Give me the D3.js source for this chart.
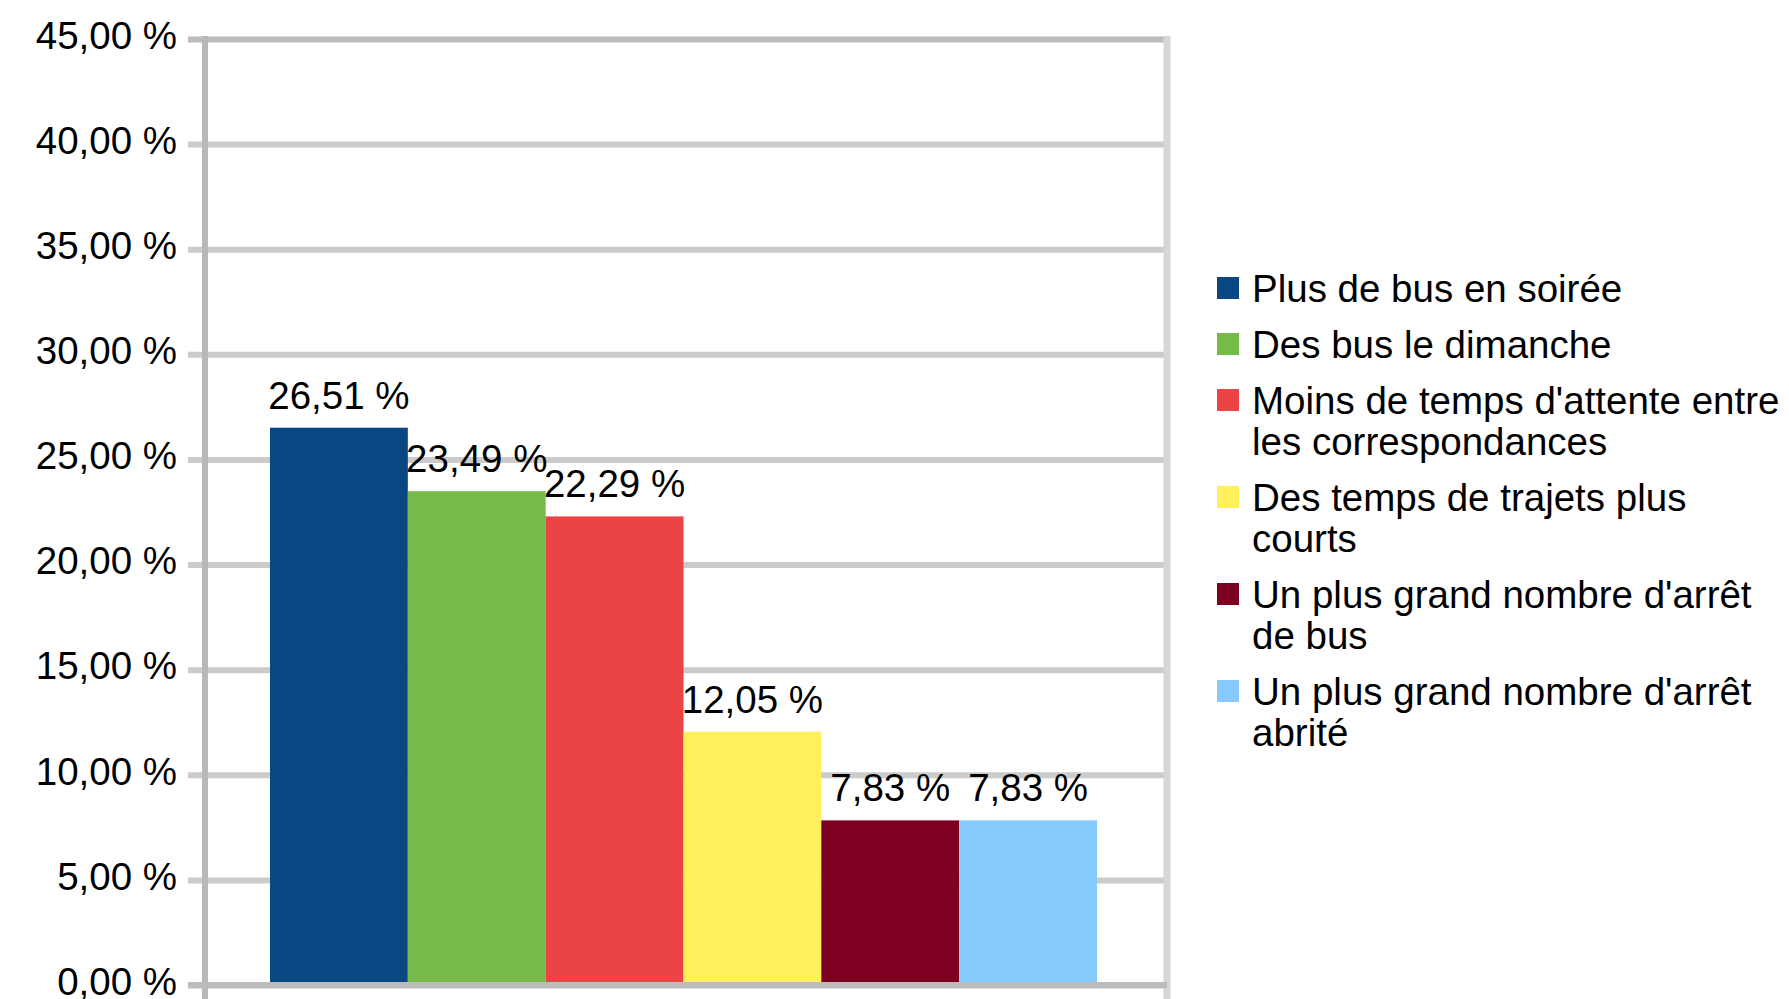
<!DOCTYPE html>
<html><head><meta charset="utf-8">
<script src="https://cdn.jsdelivr.net/npm/d3@7"></script>
<style>
html,body{margin:0;padding:0;background:#fff;}
svg{display:block;}
text{font-family:"Liberation Sans",Arial,sans-serif;fill:#000;}
</style></head>
<body>
<svg id="c" width="1789" height="999"></svg>
<script>
const seriesNames = [
  "Plus de bus en soirée",
  "Des bus le dimanche",
  "Moins de temps d'attente entre les correspondances",
  "Des temps de trajets plus courts",
  "Un plus grand nombre d'arrêt de bus",
  "Un plus grand nombre d'arrêt abrité"
];
const seriesValues = [26.51, 23.49, 22.29, 12.05, 7.83, 7.83];
const seriesColors = ["#0a4682", "#76bb4a", "#ec4444", "#fff05c", "#7e0021", "#85c9fd"];
const yTicks = [0, 5, 10, 15, 20, 25, 30, 35, 40, 45];

const fmt = v => v.toFixed(2).replace(".", ",") + " %";
const FS = 38.5;

const svg = d3.select("#c");
const plotL = 205, plotR = 1167, plotT = 39, plotB = 985;

const y = d3.scaleLinear().domain([0, 45]).range([plotB, plotT]);
const x = d3.scaleBand().domain(seriesNames).range([270, 1097]).padding(0);

// gridlines + tick labels via axis
const tickStart = 188;
const ax = svg.append("g").attr("transform", `translate(${tickStart},0)`)
  .call(d3.axisLeft(y).tickValues(yTicks).tickFormat(fmt)
    .tickSizeInner(-(plotR - tickStart)).tickSizeOuter(0).tickPadding(11));
ax.select(".domain").remove();
ax.selectAll(".tick line").attr("stroke", d => (d === 0 || d === 45) ? "#bcbcbc" : "#cbcbcb").attr("stroke-width", 6);
ax.selectAll(".tick text").style("font-size", FS + "px").style("font-family", '"Liberation Sans",Arial,sans-serif')
  .attr("fill", "#000").attr("dy", "0.32em").attr("y", -3);

// vertical axis lines
svg.append("line").attr("x1", plotL).attr("x2", plotL).attr("y1", plotT - 3).attr("y2", 999)
  .attr("stroke", "#b8b8b8").attr("stroke-width", 6);
svg.append("line").attr("x1", plotR).attr("x2", plotR).attr("y1", plotT - 3).attr("y2", 999)
  .attr("stroke", "#d6d6d6").attr("stroke-width", 7);

// bars
svg.append("g").selectAll("rect").data(seriesNames).join("rect")
  .attr("x", d => x(d))
  .attr("width", x.bandwidth())
  .attr("y", (d, i) => y(seriesValues[i]))
  .attr("height", (d, i) => y(0) - 3 - y(seriesValues[i]))
  .attr("fill", (d, i) => seriesColors[i]);

// redraw bottom axis over bars
svg.append("line").attr("x1", tickStart).attr("x2", plotR).attr("y1", y(0)).attr("y2", y(0))
  .attr("stroke", "#bcbcbc").attr("stroke-width", 6);

// value labels
svg.append("g").selectAll("text").data(seriesNames).join("text")
  .attr("x", d => x(d) + x.bandwidth() / 2)
  .attr("y", (d, i) => y(seriesValues[i]) - 19)
  .attr("text-anchor", "middle")
  .style("font-size", FS + "px")
  .text((d, i) => fmt(seriesValues[i]));

// legend
const lg = svg.append("g");
const lgX = 1217, textX = 1252, lineH = 41, gap = 15, maxW = 540;
let base = 302;
seriesNames.forEach((name, i) => {
  const t = lg.append("text").attr("x", textX).attr("y", base).style("font-size", FS + "px");
  const words = name.split(" ");
  let line = [], lines = [];
  const probe = lg.append("text").style("font-size", FS + "px");
  words.forEach(w => {
    const test = line.concat([w]).join(" ");
    probe.text(test);
    if (probe.node().getComputedTextLength() > maxW && line.length) {
      lines.push(line.join(" "));
      line = [w];
    } else line.push(w);
  });
  lines.push(line.join(" "));
  probe.remove();
  lines.forEach((l, k) => t.append("tspan").attr("x", textX).attr("y", base + k * lineH).text(l));
  lg.append("rect").attr("x", lgX).attr("y", base - 25).attr("width", 22).attr("height", 22)
    .attr("fill", seriesColors[i]);
  base += lines.length * lineH + gap;
});
</script>
</body></html>
